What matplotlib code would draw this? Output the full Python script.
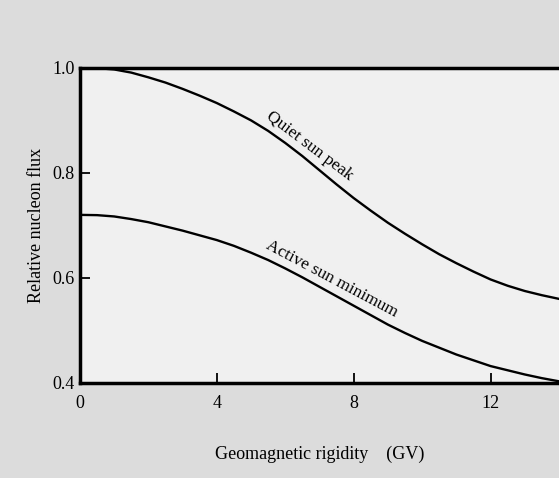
import matplotlib.pyplot as plt

# rigidity (GV) and relative nucleon flux
rigidity = [0, 0.5, 1, 1.5, 2, 2.5, 3, 3.5, 4, 4.5, 5, 5.5, 6, 6.5, 7,
            7.5, 8, 8.5, 9, 9.5, 10, 10.5, 11, 11.5, 12, 12.5, 13, 13.5, 14]
quiet_sun_peak = [1.0, 0.9995, 0.997, 0.991, 0.982, 0.972, 0.960, 0.947,
                  0.933, 0.917, 0.900, 0.880, 0.857, 0.832, 0.805, 0.778,
                  0.752, 0.728, 0.705, 0.684, 0.664, 0.645, 0.628, 0.612,
                  0.597, 0.585, 0.575, 0.567, 0.560]
active_sun_min = [0.720, 0.7195, 0.717, 0.712, 0.706, 0.698, 0.690, 0.681,
                  0.672, 0.661, 0.648, 0.634, 0.618, 0.601, 0.583, 0.565,
                  0.547, 0.529, 0.511, 0.495, 0.480, 0.467, 0.454, 0.443,
                  0.432, 0.424, 0.416, 0.409, 0.403]

x_ticks = [0, 4, 8, 12]
y_ticks = [0.4, 0.6, 0.8, 1.0]
x_tick_labels = ["0", "4", "8", "12"]
y_tick_labels = ["0.4", "0.6", "0.8", "1.0"]

plt.rcParams["font.family"] = ["Liberation Serif", "DejaVu Serif"]

fig = plt.figure(figsize=(5.59, 4.78), dpi=100, facecolor="#dcdcdc")
ax = fig.add_axes([0.143, 0.199, 0.857, 0.659])
ax.set_facecolor("#f0f0f0")

ax.plot(rigidity, quiet_sun_peak, color="black", lw=1.7)
ax.plot(rigidity, active_sun_min, color="black", lw=1.7)

ax.set_xlim(0, 14)
ax.set_ylim(0.4, 1.0)

ax.set_xticks(x_ticks)
ax.set_yticks(y_ticks)
ax.set_xticklabels(x_tick_labels)
ax.set_yticklabels(y_tick_labels)

ax.tick_params(axis="x", direction="in", length=7, width=1.3,
               labelsize=13, pad=9)
ax.tick_params(axis="y", direction="in", length=7, width=1.3,
               labelsize=13, pad=4)

for side in ["left", "bottom", "top"]:
    ax.spines[side].set_linewidth(2.5)
ax.spines["right"].set_visible(False)

# curve labels
ax.text(6.7, 0.852, "Quiet sun peak", rotation=-37,
        ha="center", va="center", fontsize=12.5)
ax.text(7.35, 0.598, "Active sun minimum", rotation=-28,
        ha="center", va="center", fontsize=12.5)

ax.set_xlabel("Geomagnetic rigidity    (GV)", fontsize=13, labelpad=24)
ax.set_ylabel("Relative nucleon flux", fontsize=13, labelpad=5)

fig.savefig("out.png", dpi=100, facecolor=fig.get_facecolor())
